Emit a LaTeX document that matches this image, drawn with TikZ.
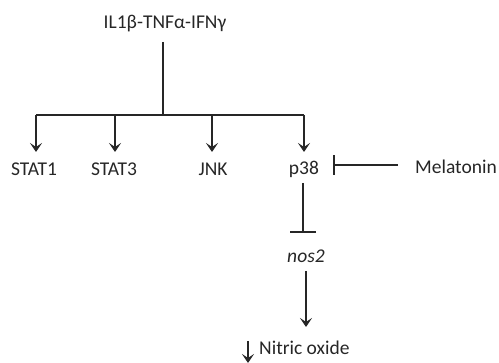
\documentclass[tikz,border=0pt]{standalone}
\usepackage{fontspec}
\setmainfont{Carlito}
\usetikzlibrary{arrows.meta}
\begin{document}
\begin{tikzpicture}[x=1pt,y=-1pt,
  lbl/.style={inner sep=0pt,font=\fontsize{19.5}{22}\selectfont,text=black!85},
  ln/.style={line width=2.2pt,draw=black!85},
  act/.style={ln,-{Stealth[length=9pt,width=12pt,inset=4pt]}},
  inh/.style={ln,-{Bar[width=20pt,line width=2.4pt]}}]
\useasboundingbox (0,0) rectangle (499,363);
\node[lbl] (top) at (165,24) {IL1β-TNFα-IFNγ};
\node[lbl] (s1) at (34,169) {STAT1};
\node[lbl] (s3) at (114,169) {STAT3};
\node[lbl] (jnk) at (213,169) {JNK};
\node[lbl] (p38) at (304,169) {p38};
\node[lbl] (mel) at (456,167) {Melatonin};
\node[lbl] (nos) at (306,256) {\itshape nos2};
\node[lbl,anchor=west] (no) at (259,348) {Nitric oxide};
\coordinate (hub) at (163,115);
\coordinate (bl) at (36,115);
\coordinate (br) at (304,115);
\coordinate (mid1) at (115,115);
\coordinate (mid2) at (212,115);
\coordinate (nob) at (248,363);
\draw[ln] (163,42) -- (hub);
\draw[ln] (bl) -- (br);
\draw[act] (bl) -- (36,152);
\draw[act] (mid1) -- (115,152);
\draw[act] (mid2) -- (212,152);
\draw[act] (br) -- (304,152);
\draw[inh] (398,165) -- (333,165);
\draw[ln,-{Bar[width=26pt,line width=2.2pt]}] (303,183) -- (303,233);
\draw[act] (306,271) -- (306,327);
\draw[act] (248,341) -- (nob);
\end{tikzpicture}
\end{document}
